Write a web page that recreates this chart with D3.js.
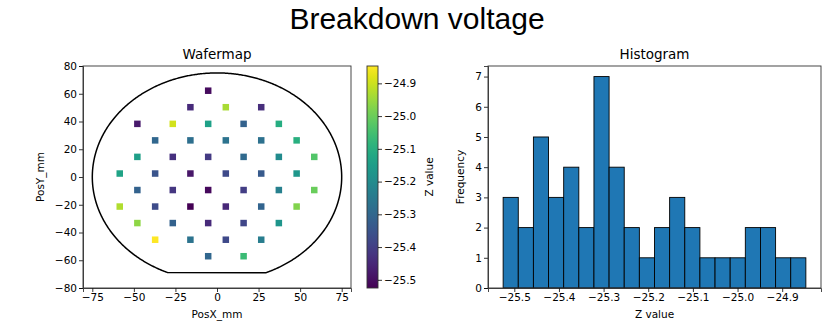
<!DOCTYPE html>
<html>
<head>
<meta charset="utf-8">
<script src="https://cdn.jsdelivr.net/npm/d3@7"></script>
<style>
  html, body { margin: 0; padding: 0; background: #fff; }
  svg { display: block; }
  text { font-family: "DejaVu Sans", sans-serif; fill: #000; }
</style>
</head>
<body>
<svg id="chart" width="833" height="325"></svg>
<script>
// Die positions on the wafer (mm) and the measured breakdown voltage of each die
const posX = [
  -5.3,
  -16.0, 5.3, 26.6,
  -47.9, -26.6, -5.3, 16.0, 37.2,
  -37.2, -16.0, 5.3, 26.6, 47.9,
  -47.9, -26.6, -5.3, 16.0, 37.2, 58.5,
  -58.5, -37.2, -16.0, 5.3, 26.6, 47.9,
  -47.9, -26.6, -5.3, 16.0, 37.2, 58.5,
  -58.5, -37.2, -16.0, 5.3, 26.6, 47.9,
  -47.9, -26.6, -5.3, 16.0, 37.2,
  -37.2, -16.0, 5.3, 26.6,
  -5.3, 16.0
];
const posY = [
  62.2,
  50.3, 50.3, 50.3,
  38.3, 38.3, 38.3, 38.3, 38.3,
  26.4, 26.4, 26.4, 26.4, 26.4,
  14.5, 14.5, 14.5, 14.5, 14.5, 14.5,
  2.5, 2.5, 2.5, 2.5, 2.5, 2.5,
  -9.4, -9.4, -9.4, -9.4, -9.4, -9.4,
  -21.3, -21.3, -21.3, -21.3, -21.3, -21.3,
  -33.2, -33.2, -33.2, -33.2, -33.2,
  -45.2, -45.2, -45.2, -45.2,
  -57.1, -57.1
];
const zValue = [
  -25.505,
  -25.444, -24.935, -25.437,
  -25.478, -24.894, -25.139, -25.315, -25.105,
  -25.301, -25.281, -25.267, -25.274, -25.098,
  -25.145, -25.430, -25.410, -25.294, -25.200, -25.030,
  -25.132, -25.349, -25.484, -25.376, -25.335, -25.166,
  -25.315, -25.417, -25.511, -25.403, -25.233, -25.003,
  -24.928, -25.369, -25.525, -25.450, -25.308, -24.976,
  -24.962, -25.315, -25.444, -25.383, -25.172,
  -24.847, -25.267, -25.376, -25.240,
  -25.301, -25.064
];

// Wafer outline: 150 mm disc with a flat at the bottom
const waferRadius = 75;
const waferFlatY = -69;

// Tick values
const mapXTicks = [-75, -50, -25, 0, 25, 50, 75];
const mapYTicks = [-80, -60, -40, -20, 0, 20, 40, 60, 80];
const zTicks = [-25.5, -25.4, -25.3, -25.2, -25.1, -25.0, -24.9];
const freqTicks = [0, 1, 2, 3, 4, 5, 6, 7];
const binCount = 20;

const minus = s => s.replace(/-/g, "\u2212");

const svg = d3.select("#chart");

// ---------- suptitle ----------
svg.append("text")
  .attr("x", 417).attr("y", 29)
  .attr("text-anchor", "middle")
  .style("font-family", "'Liberation Sans', Arial, sans-serif")
  .style("font-size", "30px")
  .text("Breakdown voltage");

const vMin = d3.min(zValue), vMax = d3.max(zValue);
const color = d3.scaleSequential(d3.interpolateViridis).domain([vMin, vMax]);

const tickFont = "10.5px";
const labelFont = "10.5px";
const titleFont = "13.5px";
const tickLen = 4;
const spineColor = "#333";

// ---------- wafer map ----------
const map = { left: 83, right: 351, top: 66, bottom: 288 };
const mx = d3.scaleLinear().domain([-80.6, 80.6]).range([map.left, map.right]);
const my = d3.scaleLinear().domain([-80, 80]).range([map.bottom, map.top]);

const gMap = svg.append("g");

// outline of the wafer
const flatAngle = Math.asin(waferFlatY / waferRadius); // negative
const angles = d3.range(flatAngle, Math.PI - flatAngle + 1e-9, Math.PI / 360);
const outline = angles.map(a => [waferRadius * Math.cos(a), waferRadius * Math.sin(a)]);
gMap.append("path")
  .attr("d", d3.line().x(d => mx(d[0])).y(d => my(d[1]))(outline) + "Z")
  .attr("fill", "none")
  .attr("stroke", "#000")
  .attr("stroke-width", 1.5);

// dies
const sq = 6.5;
gMap.selectAll("rect.die")
  .data(zValue.map((z, i) => ({ x: posX[i], y: posY[i], z })))
  .join("rect")
  .attr("class", "die")
  .attr("x", d => mx(d.x) - sq / 2)
  .attr("y", d => my(d.y) - sq / 2)
  .attr("width", sq).attr("height", sq)
  .attr("fill", d => color(d.z));

// axes
gMap.append("g")
  .attr("transform", `translate(0,${map.bottom})`)
  .call(d3.axisBottom(mx).tickValues(mapXTicks).tickSize(tickLen).tickPadding(2).tickFormat(d => minus(String(d))));
gMap.append("g")
  .attr("transform", `translate(${map.left},0)`)
  .call(d3.axisLeft(my).tickValues(mapYTicks).tickSize(tickLen).tickPadding(2).tickFormat(d => minus(String(d))));
gMap.append("rect")
  .attr("x", map.left).attr("y", map.top)
  .attr("width", map.right - map.left).attr("height", map.bottom - map.top)
  .attr("fill", "none").attr("stroke", spineColor).attr("stroke-width", 0.9);

gMap.append("text").attr("x", (map.left + map.right) / 2).attr("y", 59)
  .attr("text-anchor", "middle").style("font-size", titleFont).text("Wafermap");
gMap.append("text").attr("x", (map.left + map.right) / 2).attr("y", 318)
  .attr("text-anchor", "middle").style("font-size", labelFont).text("PosX_mm");
gMap.append("text")
  .attr("transform", `translate(44,${(map.top + map.bottom) / 2}) rotate(-90)`)
  .attr("text-anchor", "middle").style("font-size", labelFont).text("PosY_mm");

// ---------- colorbar ----------
const cb = { left: 367, right: 378, top: 66, bottom: 288 };
const cy = d3.scaleLinear().domain([vMin, vMax]).range([cb.bottom, cb.top]);
const defs = svg.append("defs");
const grad = defs.append("linearGradient").attr("id", "viridisGrad")
  .attr("x1", 0).attr("y1", 1).attr("x2", 0).attr("y2", 0);
d3.range(0, 1.0001, 0.05).forEach(t => {
  grad.append("stop").attr("offset", t).attr("stop-color", d3.interpolateViridis(t));
});
const gCb = svg.append("g");
gCb.append("rect")
  .attr("x", cb.left).attr("y", cb.top)
  .attr("width", cb.right - cb.left).attr("height", cb.bottom - cb.top)
  .attr("fill", "url(#viridisGrad)")
  .attr("stroke", spineColor).attr("stroke-width", 0.9);
gCb.append("g")
  .attr("transform", `translate(${cb.right},0)`)
  .call(d3.axisRight(cy).tickValues(zTicks).tickSize(tickLen).tickPadding(2).tickFormat(d => minus(d3.format(".1f")(d))))
  .call(g => g.select(".domain").remove());
gCb.append("text")
  .attr("transform", `translate(433,${(cb.top + cb.bottom) / 2}) rotate(-90)`)
  .attr("text-anchor", "middle").style("font-size", labelFont).text("Z value");

// ---------- histogram ----------
const hist = { left: 488, right: 821, top: 66, bottom: 288 };
const span = vMax - vMin;
const binWidth = span / binCount;
const thresholds = d3.range(1, binCount).map(i => vMin + i * binWidth);
const bins = d3.bin().domain([vMin, vMax]).thresholds(thresholds)(zValue);
bins[0].x0 = vMin;
bins[bins.length - 1].x1 = vMax;

const hx = d3.scaleLinear().domain([vMin - 0.05 * span, vMax + 0.05 * span]).range([hist.left, hist.right]);
const hy = d3.scaleLinear().domain([0, d3.max(bins, b => b.length) * 1.05]).range([hist.bottom, hist.top]);

const gHist = svg.append("g");
gHist.selectAll("rect.bar")
  .data(bins)
  .join("rect")
  .attr("class", "bar")
  .attr("x", d => hx(d.x0))
  .attr("y", d => hy(d.length))
  .attr("width", d => hx(d.x1) - hx(d.x0))
  .attr("height", d => hy(0) - hy(d.length))
  .attr("fill", "#1f77b4")
  .attr("stroke", "#000")
  .attr("stroke-width", 0.9);

gHist.append("g")
  .attr("transform", `translate(0,${hist.bottom})`)
  .call(d3.axisBottom(hx).tickValues(zTicks).tickSize(tickLen).tickPadding(2).tickFormat(d => minus(d3.format(".1f")(d))));
gHist.append("g")
  .attr("transform", `translate(${hist.left},0)`)
  .call(d3.axisLeft(hy).tickValues(freqTicks).tickSize(tickLen).tickPadding(2).tickFormat(d3.format("d")));
gHist.append("rect")
  .attr("x", hist.left).attr("y", hist.top)
  .attr("width", hist.right - hist.left).attr("height", hist.bottom - hist.top)
  .attr("fill", "none").attr("stroke", spineColor).attr("stroke-width", 0.9);

gHist.append("text").attr("x", (hist.left + hist.right) / 2).attr("y", 59)
  .attr("text-anchor", "middle").style("font-size", titleFont).text("Histogram");
gHist.append("text").attr("x", (hist.left + hist.right) / 2).attr("y", 318)
  .attr("text-anchor", "middle").style("font-size", labelFont).text("Z value");
gHist.append("text")
  .attr("transform", `translate(464,${(hist.top + hist.bottom) / 2}) rotate(-90)`)
  .attr("text-anchor", "middle").style("font-size", labelFont).text("Frequency");

// shared axis styling
svg.selectAll(".domain").attr("stroke", spineColor).attr("stroke-width", 0.9);
svg.selectAll(".tick line").attr("stroke", "#000").attr("stroke-width", 0.8);
svg.selectAll(".tick text").style("font-size", tickFont).style("font-family", "'DejaVu Sans', sans-serif");
</script>
</body>
</html>
